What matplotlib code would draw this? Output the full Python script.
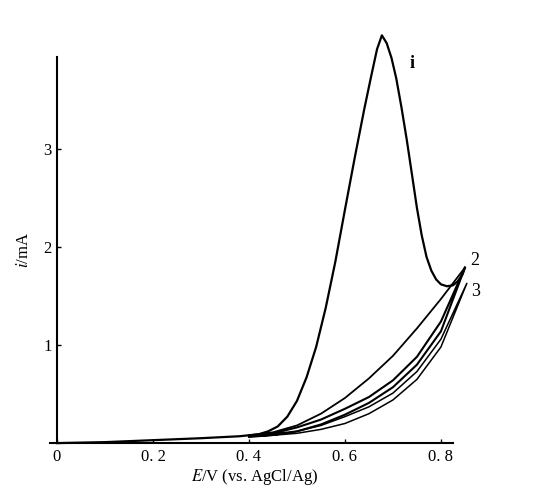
import numpy as np
import matplotlib
matplotlib.use("Agg")
import matplotlib.pyplot as plt

plt.rcParams['font.family'] = ['Liberation Serif', 'DejaVu Serif']
plt.rcParams['mathtext.fontset'] = 'stix'

# curve 1, forward scan (E in V, i in mA)
e1 = [0.0, 0.1, 0.2, 0.3, 0.38, 0.42, 0.44, 0.46, 0.48, 0.50, 0.52, 0.54, 0.56,
      0.58, 0.60, 0.62, 0.64, 0.655, 0.667, 0.677, 0.687, 0.697, 0.707, 0.718,
      0.729, 0.74, 0.75, 0.76, 0.77, 0.78, 0.79, 0.80, 0.8125, 0.825, 0.835,
      0.845, 0.85]
i1 = [0.0, 0.01, 0.03, 0.05, 0.07, 0.09, 0.12, 0.17, 0.27, 0.43, 0.67, 0.98, 1.38,
      1.85, 2.38, 2.9, 3.4, 3.75, 4.02, 4.16, 4.08, 3.93, 3.72, 3.42,
      3.09, 2.73, 2.4, 2.12, 1.9, 1.76, 1.67, 1.62, 1.6, 1.61, 1.65,
      1.72, 1.79]

# return of curve 1
e1r = [0.85, 0.80, 0.75, 0.70, 0.65, 0.60, 0.55, 0.50, 0.45, 0.40]
i1r = [1.79, 1.47, 1.17, 0.89, 0.66, 0.46, 0.3, 0.18, 0.11, 0.08]

# curve 2
e2 = [0.40, 0.45, 0.5, 0.55, 0.6, 0.65, 0.7, 0.75, 0.8, 0.85,
      0.8, 0.75, 0.7, 0.65, 0.6, 0.55, 0.5, 0.45, 0.40]
i2 = [0.07, 0.1, 0.16, 0.24, 0.35, 0.47, 0.64, 0.88, 1.24, 1.79,
      1.14, 0.8, 0.57, 0.41, 0.29, 0.19, 0.12, 0.09, 0.07]

# curve 3
e3 = [0.40, 0.45, 0.5, 0.55, 0.6, 0.65, 0.7, 0.75, 0.8, 0.854,
      0.8, 0.75, 0.7, 0.65, 0.6, 0.55, 0.5, 0.45, 0.40]
i3 = [0.06, 0.08, 0.12, 0.18, 0.27, 0.37, 0.51, 0.73, 1.06, 1.63,
      0.98, 0.65, 0.44, 0.3, 0.2, 0.14, 0.1, 0.08, 0.07]

xticks = [0, 0.2, 0.4, 0.6, 0.8]
xtick_labels = ['0', '0. 2', '0. 4', '0. 6', '0. 8']
yticks = [1, 2, 3]

fig = plt.figure(figsize=(5.53, 4.99), dpi=100)
ax = fig.add_axes([0.103, 0.112, 0.716, 0.774])

ax.plot(e1, i1, color='black', linewidth=1.6, clip_on=False)
ax.plot(e1r, i1r, color='black', linewidth=1.3, clip_on=False)
ax.plot(e2, i2, color='black', linewidth=1.5, clip_on=False)
ax.plot(e3, i3, color='black', linewidth=1.1, clip_on=False)

ax.set_xlim(0, 0.825)
ax.set_ylim(0, 3.94)
ax.spines['top'].set_visible(False)
ax.spines['right'].set_visible(False)
ax.spines['left'].set_linewidth(1.5)
ax.spines['bottom'].set_linewidth(1.5)
ax.spines['bottom'].set_bounds(-0.015, 0.825)

ax.set_xticks(xticks)
ax.set_xticklabels(xtick_labels, fontsize=12)
ax.set_yticks(yticks)
ax.set_yticklabels([str(t) for t in yticks], fontsize=12)
ax.tick_params(direction='in', length=3, width=1, pad=4)

ax.set_xlabel('$E$/V (vs. AgCl/Ag)', fontsize=12, labelpad=2)
ax.set_ylabel('$i$/mA', fontsize=12, labelpad=8)

# curve labels
ax.text(0.735, 3.83, 'i', fontsize=13, fontweight='bold', clip_on=False)
ax.text(0.862, 1.82, '2', fontsize=13, clip_on=False)
ax.text(0.862, 1.5, '3', fontsize=13, clip_on=False)

plt.savefig('out.png', dpi=100)
